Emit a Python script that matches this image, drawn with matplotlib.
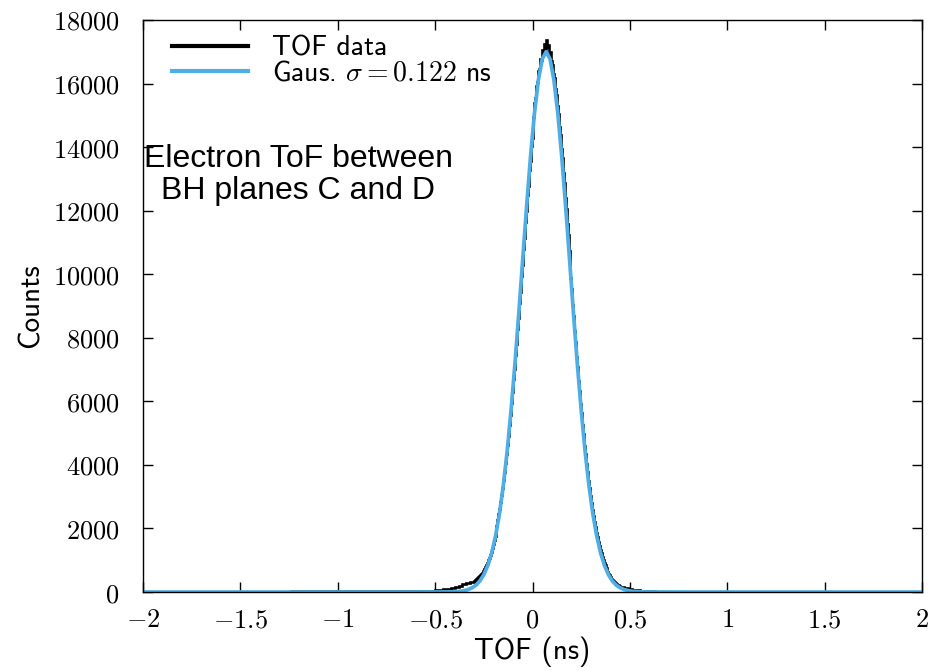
import numpy as np
import matplotlib
matplotlib.use("Agg")
import matplotlib.pyplot as plt
from matplotlib.ticker import FuncFormatter

plt.rcParams['mathtext.fontset'] = 'cm'

# ---- data ----
# histogram pieces: (start, stop, number of bins) and the counts in each piece
piece_left_tail = (-2.0, -0.5, 75)
counts_left_tail = [1, 1, 2, 1, 1, 2, 1, 1, 2, 2, 2, 1, 2, 3, 2, 2, 3, 3, 2, 3, 4, 3, 4, 4, 5,
                    5, 5, 6, 7, 7, 8, 9, 9, 11, 12, 13, 13, 15, 17, 18,
                    20, 22, 24, 26, 28, 30, 31, 33, 35, 36, 38, 37, 39, 38, 37, 38, 35, 34, 33, 31,
                    30, 29, 28, 27, 26, 25, 25, 24, 24, 25, 26, 28, 30, 33, 37]
piece_rise = (-0.5, -0.3, 10)
counts_rise = [60, 72, 88, 108, 132, 160, 195, 240, 285, 325]
piece_peak = (-0.3, 0.45, 150)
counts_peak = [350, 380, 395, 430, 460, 495, 530, 570, 610, 670,
               715, 780, 845, 910, 1000, 1075, 1180, 1270, 1395, 1500,
               1640, 1770, 1930, 2080, 2260, 2440, 2620, 2840, 3060, 3280,
               3520, 3790, 4050, 4330, 4640, 4920, 5270, 5580, 5960, 6280,
               6690, 7020, 7460, 7800, 8270, 8610, 9100, 9450, 9950, 10290,
               10800, 11140, 11650, 11980, 12480, 12780, 13280, 13560, 14040, 14290,
               14740, 14950, 15380, 15540, 15930, 16050, 16400, 16460, 16780, 16750,
               17050, 16960, 17250, 17100,
               17380, 17150, 17220, 16900, 17000, 16700, 16580, 16300, 16160, 15820,
               15640, 15280, 15050, 14640, 14390, 13950, 13660, 13190, 12880, 12400,
               12060, 11570, 11220, 10730, 10370, 9880, 9520, 9040, 8690, 8210,
               7870, 7410, 7080, 6650, 6330, 5920, 5620, 5240, 4960, 4610,
               4340, 4030, 3780, 3500, 3270, 3020, 2810, 2590, 2400, 2210,
               2040, 1870, 1720, 1580, 1450, 1330, 1215, 1110, 1010, 920,
               840, 765, 695, 630, 575, 520, 470, 425, 385, 350,
               315, 285, 255, 230, 210, 190]
piece_fall = (0.45, 0.75, 15)
counts_fall = [170, 130, 95, 70, 52, 40, 31, 25, 20, 16, 14, 12, 10, 9, 8]
piece_right_tail = (0.75, 2.0, 25)
counts_right_tail = [7, 6, 5, 4, 4, 3, 3, 3, 2, 2, 2, 2, 2, 1, 1, 1, 1, 1, 1, 1, 1, 1, 1, 1, 1]

fit_x = [-2.0, -0.6, -0.49, -0.47, -0.45, -0.43, -0.41, -0.39, -0.37, -0.35, -0.33, -0.31,
         -0.29, -0.27, -0.25, -0.23, -0.21, -0.19, -0.17, -0.15, -0.13, -0.11, -0.09,
         -0.07, -0.05, -0.03, -0.01, 0.01, 0.03, 0.05, 0.07, 0.09, 0.11, 0.13, 0.15,
         0.17, 0.19, 0.21, 0.23, 0.25, 0.27, 0.29, 0.31, 0.33, 0.35, 0.37, 0.39, 0.41,
         0.43, 0.45, 0.47, 0.49, 0.51, 0.53, 0.55, 0.57, 0.59, 0.61, 0.8, 2.0]
fit_y = [0, 0, 0.5, 1, 2, 4, 7, 14, 25, 45, 79, 133,
         218, 350, 545, 828, 1221, 1755, 2455, 3344, 4434, 5726, 7195,
         8801, 10481, 12150, 13710, 15064, 16111, 16774, 17000, 16774, 16111, 15064, 13710,
         12150, 10481, 8801, 7195, 5726, 4434, 3344, 2455, 1755, 1221, 828, 545, 350,
         218, 133, 79, 45, 25, 14, 7, 4, 2, 1, 0, 0]

x_ticks = [-2, -1.5, -1, -0.5, 0, 0.5, 1, 1.5, 2]
y_ticks = [0, 2000, 4000, 6000, 8000, 10000, 12000, 14000, 16000, 18000]

pieces = [piece_left_tail, piece_rise, piece_peak, piece_fall, piece_right_tail]
counts = counts_left_tail + counts_rise + counts_peak + counts_fall + counts_right_tail
edges = [pieces[0][0]]
for a, b, n in pieces:
    edges.extend(np.linspace(a, b, n + 1)[1:])
edges = np.array(edges)

# ---- plot ----
fig = plt.figure(figsize=(9.33, 6.71), dpi=100)
ax = fig.add_axes([0.1533, 0.1177, 0.8349, 0.8525])

ax.stairs(counts, edges, color='black', linewidth=1.9, label='TOF data')
ax.plot(fit_x, fit_y, color='#4eaee5', linewidth=2.7,
        label=r'Gaus. $\sigma = 0.122$ ns')

ax.set_xlim(-2, 2)
ax.set_ylim(0, 18000)
ax.set_xticks(x_ticks)
ax.set_yticks(y_ticks)
ax.xaxis.set_major_formatter(FuncFormatter(lambda v, p: r'$%g$' % v))
ax.yaxis.set_major_formatter(FuncFormatter(lambda v, p: r'$%d$' % v))
ax.tick_params(direction='in', length=7, width=1, top=True, right=True,
               labelsize=19)
ax.tick_params(axis='x', pad=11)
ax.tick_params(axis='y', pad=17)
for s in ax.spines.values():
    s.set_linewidth(1.0)

ax.set_xlabel('TOF (ns)', fontfamily='cmss10', fontsize=21, labelpad=2)
ax.set_ylabel('Counts', fontfamily='cmss10', fontsize=21, labelpad=6)

leg = ax.legend(loc='upper left', bbox_to_anchor=(0.037, 0.973), frameon=False,
                prop={'family': 'cmss10', 'size': 20},
                handlelength=2.75, borderaxespad=0.0, borderpad=0.0,
                labelspacing=0.0, handletextpad=0.85)
for h in leg.get_lines():
    h.set_linewidth(3)

ax.text(0.199, 0.729, 'Electron ToF between\nBH planes C and D',
        transform=ax.transAxes, ha='center', va='center',
        fontfamily='Liberation Sans', fontsize=23, linespacing=1.1)

fig.savefig('out.png', dpi=100)
